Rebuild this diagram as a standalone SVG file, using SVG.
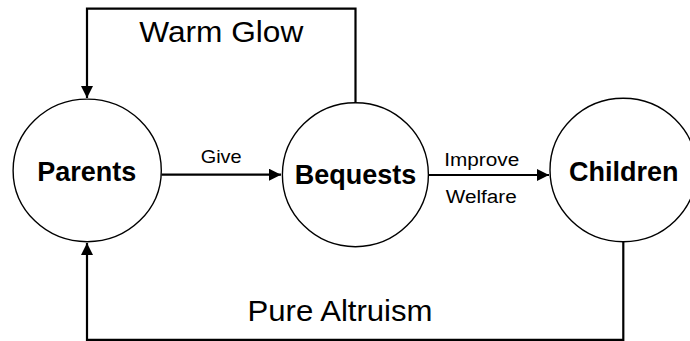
<svg xmlns="http://www.w3.org/2000/svg" width="690" height="341" viewBox="0 0 690 341">
<style>
.node{fill:#fff;stroke:#000;stroke-width:1.4}
.nl{font-family:"Liberation Sans",Arial,sans-serif;font-weight:bold;font-size:27px;text-anchor:middle;fill:#000}
.el{font-family:"Liberation Sans",Arial,sans-serif;text-anchor:middle;fill:#000}
.conn{fill:none;stroke:#000;stroke-width:2.2}
</style>
<defs>
<marker id="ah" markerUnits="userSpaceOnUse" markerWidth="14" markerHeight="14" refX="12" refY="6" orient="auto">
<path d="M0,0 L12,6 L0,12 Z" fill="#000"/>
</marker>
</defs>
<rect width="690" height="341" fill="#fff"/>
<g id="connectors">
<path class="conn" d="M355.5,103 V8.7 H87 V98" marker-end="url(#ah)"/>
<path class="conn" d="M623.3,241.7 V339.8 H87 V243" marker-end="url(#ah)"/>
<path class="conn" d="M161.5,174.7 H281" marker-end="url(#ah)"/>
<path class="conn" d="M428.5,175 H549" marker-end="url(#ah)"/>
<text class="el" x="221.3" y="42.3" font-size="29" textLength="164" lengthAdjust="spacingAndGlyphs">Warm Glow</text>
<text class="el" x="340" y="321" font-size="29" textLength="185" lengthAdjust="spacingAndGlyphs">Pure Altruism</text>
<text class="el" x="221.2" y="163.3" font-size="19" textLength="41" lengthAdjust="spacingAndGlyphs">Give</text>
<text class="el" x="481.7" y="166" font-size="18" textLength="75" lengthAdjust="spacingAndGlyphs">Improve</text>
<text class="el" x="481.3" y="203.3" font-size="18" textLength="71" lengthAdjust="spacingAndGlyphs">Welfare</text>
</g>
<g id="parents">
<ellipse class="node" cx="87.2" cy="170.4" rx="74.1" ry="71.3"/>
<text class="nl" x="86.8" y="180.7">Parents</text>
</g>
<g id="bequests">
<ellipse class="node" cx="355.4" cy="174.7" rx="73" ry="72"/>
<text class="nl" x="355.5" y="184">Bequests</text>
</g>
<g id="children">
<ellipse class="node" cx="623.3" cy="170" rx="73.3" ry="71.7"/>
<text class="nl" x="623.7" y="180.7">Children</text>
</g>
</svg>
